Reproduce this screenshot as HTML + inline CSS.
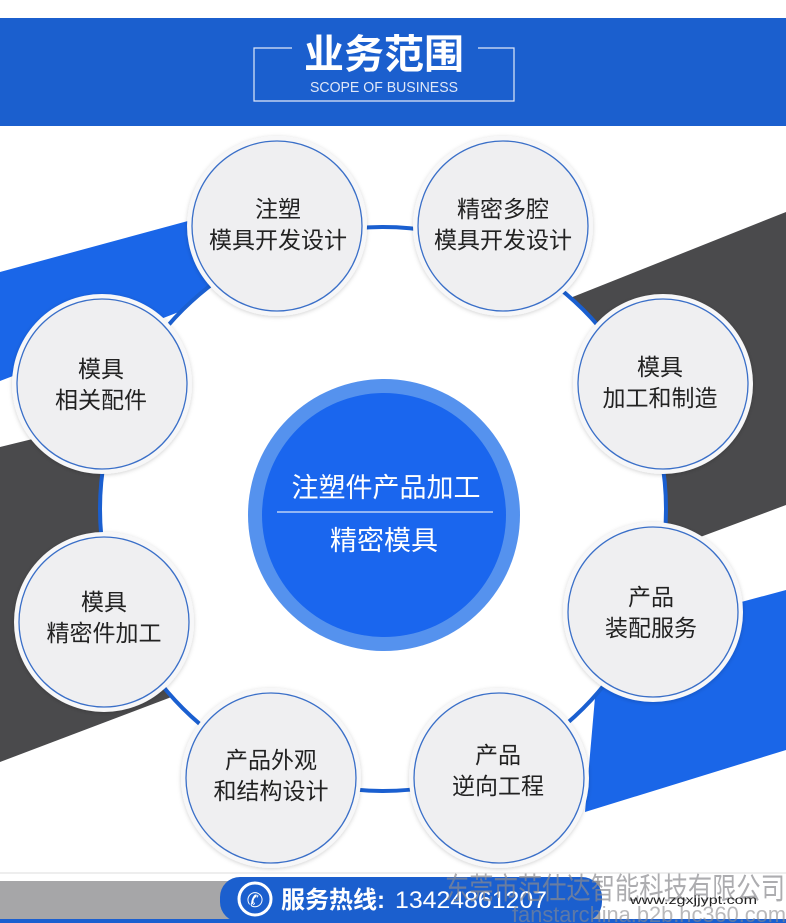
<!DOCTYPE html>
<html><head><meta charset="utf-8"><style>
html,body{margin:0;padding:0;background:#fff;}
svg{display:block;}
text{font-family:"Liberation Sans","Noto Sans CJK SC",sans-serif;}
</style></head><body>
<svg width="786" height="923" viewBox="0 0 786 923" xmlns="http://www.w3.org/2000/svg">
<defs>
<filter id="sh" x="-20%" y="-20%" width="140%" height="140%"><feDropShadow dx="0" dy="1" stdDeviation="2" flood-color="#000" flood-opacity="0.18"/></filter>
</defs>
<rect x="0" y="0" width="786" height="923" fill="#fff"/>
<rect x="0" y="18" width="786" height="108" fill="#1b5fce"/>
<path d="M292 48 H254 V101 H514 V48 H478" fill="none" stroke="#dfe8f8" stroke-width="1.2"/>
<text x="384" y="68" font-size="40" font-weight="bold" fill="#fff" text-anchor="middle">业务范围</text>
<text x="384" y="92" font-size="15" fill="#e0e8f8" text-anchor="middle" textLength="148" lengthAdjust="spacingAndGlyphs">SCOPE OF BUSINESS</text>
<polygon points="0,272 210,215 210,300 0,381" fill="#1a66e8"/>
<polygon points="0,447 110,420 190,690 0,762" fill="#4a4a4c"/>
<polygon points="565,300 786,212 786,505 660,552" fill="#4a4a4c"/>
<polygon points="600,640 786,590 786,750 585,812" fill="#1a66e8"/>
<ellipse cx="383" cy="509" rx="283" ry="282" fill="#fff" stroke="#1a5fd0" stroke-width="4"/>
<circle cx="384" cy="515" r="136" fill="#5592ee"/>
<circle cx="384" cy="515" r="122" fill="#1a66ee"/>
<line x1="277" y1="512" x2="493" y2="512" stroke="#b9d0f5" stroke-width="1.5"/>
<text x="386" y="497" font-size="27" fill="#fff" text-anchor="middle">注塑件产品加工</text>
<text x="384" y="550" font-size="27" fill="#fff" text-anchor="middle">精密模具</text>
<g font-size="23" fill="#222" text-anchor="middle">
<g filter="url(#sh)">
<circle cx="277" cy="226" r="90" fill="#f7f7f8"/>
<circle cx="503" cy="226" r="90" fill="#f7f7f8"/>
<circle cx="663" cy="384" r="90" fill="#f7f7f8"/>
<circle cx="653" cy="612" r="90" fill="#f7f7f8"/>
<circle cx="499" cy="778" r="90" fill="#f7f7f8"/>
<circle cx="271" cy="778" r="90" fill="#f7f7f8"/>
<circle cx="104" cy="622" r="90" fill="#f7f7f8"/>
<circle cx="102" cy="384" r="90" fill="#f7f7f8"/>
</g>
<g fill="#efeff1" stroke="#3a6fc8" stroke-width="1.3">
<circle cx="277" cy="226" r="85"/>
<circle cx="503" cy="226" r="85"/>
<circle cx="663" cy="384" r="85"/>
<circle cx="653" cy="612" r="85"/>
<circle cx="499" cy="778" r="85"/>
<circle cx="271" cy="778" r="85"/>
<circle cx="104" cy="622" r="85"/>
<circle cx="102" cy="384" r="85"/>
</g>
<text x="278" y="217">注塑</text><text x="278" y="248">模具开发设计</text>
<text x="503" y="217">精密多腔</text><text x="503" y="248">模具开发设计</text>
<text x="660" y="375">模具</text><text x="660" y="406">加工和制造</text>
<text x="651" y="605">产品</text><text x="651" y="636">装配服务</text>
<text x="498" y="763">产品</text><text x="498" y="794">逆向工程</text>
<text x="271" y="768">产品外观</text><text x="271" y="799">和结构设计</text>
<text x="104" y="610">模具</text><text x="104" y="641">精密件加工</text>
<text x="101" y="377">模具</text><text x="101" y="408">相关配件</text>
</g>
<rect x="0" y="872" width="786" height="51" fill="#fff"/>
<line x1="0" y1="873" x2="786" y2="873" stroke="#ddd" stroke-width="1"/>
<rect x="0" y="881" width="786" height="38" fill="#a6a6a8"/>
<rect x="0" y="919" width="786" height="4" fill="#1a5fd0"/>
<rect x="600" y="877" width="186" height="42" fill="#fff"/>
<rect x="220" y="877" width="382" height="45" rx="20" fill="#1b5fce"/>
<circle cx="255" cy="899" r="16" fill="none" stroke="#fff" stroke-width="3"/>
<text x="255" y="907" font-size="20" fill="#fff" text-anchor="middle">✆</text>
<text x="281" y="908" font-size="24" font-weight="bold" fill="#fff">服务热线:</text>
<text x="395" y="908" font-size="24" fill="#fff" textLength="152" lengthAdjust="spacingAndGlyphs">13424861207</text>
<text x="445" y="899" font-size="30" fill="#8a8a8e" fill-opacity="0.7" textLength="340" lengthAdjust="spacingAndGlyphs">东莞市范仕达智能科技有限公司</text>
<text x="512" y="922" font-size="22" fill="#8a8a8e" fill-opacity="0.6" textLength="274" lengthAdjust="spacingAndGlyphs">fanstarchina.b2b.hc360.com</text>
<text x="630" y="904" font-size="12" fill="#222" font-family="Liberation Mono, monospace" textLength="127" lengthAdjust="spacingAndGlyphs">www.zgxjjypt.com</text>
</svg>
</body></html>
